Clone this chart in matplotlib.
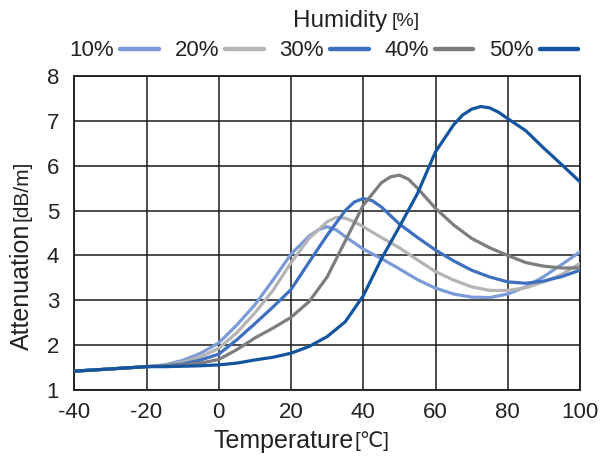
import matplotlib
matplotlib.use("Agg")
import matplotlib.pyplot as plt

plt.rcParams['font.family'] = ['Liberation Sans', 'DejaVu Sans']
plt.rcParams['axes.unicode_minus'] = False

t10 = [-40, -30, -20, -15, -10, -5, 0, 5, 10, 15, 20, 25, 27.5, 30, 32.5, 35, 40, 45,
       50, 55, 60, 65, 70, 75, 80, 85, 90, 95, 100]
h10 = [1.42, 1.47, 1.52, 1.56, 1.66, 1.82, 2.05, 2.45, 2.90, 3.45, 4.03, 4.43, 4.57,
       4.64, 4.57, 4.42, 4.14, 3.93, 3.70, 3.46, 3.27, 3.14, 3.07, 3.06, 3.14, 3.30,
       3.53, 3.80, 4.08]

t20 = [-40, -30, -20, -15, -10, -5, 0, 5, 10, 15, 20, 25, 30, 32.5, 35, 37.5, 40, 45,
       50, 55, 60, 65, 70, 75, 80, 85, 90, 95, 100]
h20 = [1.42, 1.47, 1.52, 1.55, 1.62, 1.74, 1.93, 2.28, 2.72, 3.22, 3.84, 4.38, 4.75,
       4.85, 4.83, 4.75, 4.64, 4.40, 4.17, 3.90, 3.64, 3.45, 3.30, 3.22, 3.22, 3.28,
       3.41, 3.58, 3.82]

t30 = [-40, -30, -20, -15, -10, -5, 0, 5, 10, 15, 20, 25, 30, 35, 37.5, 40, 42.5, 45,
       50, 55, 60, 65, 70, 75, 80, 85, 90, 95, 100]
h30 = [1.42, 1.47, 1.52, 1.54, 1.58, 1.67, 1.80, 2.12, 2.48, 2.85, 3.24, 3.85, 4.45,
       5.00, 5.19, 5.27, 5.22, 5.08, 4.70, 4.40, 4.12, 3.88, 3.67, 3.52, 3.41, 3.38,
       3.43, 3.53, 3.67]

t40 = [-40, -30, -20, -15, -10, -5, 0, 5, 10, 15, 20, 25, 30, 35, 40, 45, 47.5, 50,
       52.5, 55, 60, 65, 70, 75, 80, 85, 90, 95, 100]
h40 = [1.42, 1.47, 1.52, 1.54, 1.56, 1.60, 1.68, 1.90, 2.16, 2.38, 2.62, 2.97, 3.52,
       4.32, 5.12, 5.62, 5.75, 5.79, 5.70, 5.50, 5.05, 4.68, 4.38, 4.17, 4.00, 3.84,
       3.76, 3.72, 3.72]

t50 = [-40, -30, -20, -15, -10, -5, 0, 5, 10, 15, 20, 25, 30, 35, 40, 45, 50, 55, 60,
       65, 67.5, 70, 72.5, 75, 77.5, 80, 85, 90, 95, 100]
h50 = [1.42, 1.47, 1.52, 1.52, 1.53, 1.54, 1.56, 1.60, 1.67, 1.73, 1.82, 1.97, 2.19,
       2.52, 3.10, 3.92, 4.64, 5.38, 6.31, 6.91, 7.13, 7.26, 7.32, 7.29, 7.19, 7.05,
       6.78, 6.39, 6.02, 5.64]

temps = [t10, t20, t30, t40, t50]
series = [h10, h20, h30, h40, h50]
labels = ['10%', '20%', '30%', '40%', '50%']
colors = ['#7b9bd8', '#b4b4b4', '#3f6fbf', '#7d7d7d', '#1455a0']

xticks = [-40, -20, 0, 20, 40, 60, 80, 100]
yticks = [1, 2, 3, 4, 5, 6, 7, 8]

fig = plt.figure(figsize=(6.11, 4.57), dpi=100)
ax = fig.add_axes([74.3 / 611, 1 - 390 / 457, (580 - 74.3) / 611, (390 - 76) / 457])

handles = []
for xs, vals, lab, col in zip(temps, series, labels, colors):
    ln, = ax.plot(xs, vals, color=col, lw=2.3, label=lab,
                  solid_capstyle='round', solid_joinstyle='round', zorder=3)
    handles.append(ln)

ax.set_xlim(-40, 100)
ax.set_ylim(1, 8)
ax.set_xticks(xticks)
ax.set_yticks(yticks)
ax.grid(True, color='#1a1a1a', lw=1.1, zorder=1)
for s in ax.spines.values():
    s.set_color('#1a1a1a')
    s.set_linewidth(1.3)
ax.tick_params(length=0, labelsize=16, colors='#222222')
ax.tick_params(axis='x', pad=9)
ax.tick_params(axis='y', pad=11)

# axis labels
t = fig.text(213 / 611, 1 - 441 / 457, 'Temperature', fontsize=18, ha='left', va='center', color='#222222')
ax.annotate('[℃]', xy=(1, 0.5), xycoords=t, xytext=(1, 0), textcoords='offset points',
            ha='left', va='center', fontsize=15, color='#222222')

ty = fig.text(22 / 611, 1 - 350 / 457, 'Attenuation', fontsize=18, ha='center', va='bottom',
              rotation=90, color='#222222')
ax.annotate('[dB/m]', xy=(0.5, 1), xycoords=ty, xytext=(0, 2), textcoords='offset points',
            ha='center', va='bottom', rotation=90, fontsize=15, color='#222222')

# legend title
th = fig.text(293 / 611, 1 - 21 / 457, 'Humidity', fontsize=17.5, ha='left', va='center', color='#222222')
ax.annotate('[%]', xy=(1, 0.5), xycoords=th, xytext=(3, 0), textcoords='offset points',
            ha='left', va='center', fontsize=14, color='#222222')

leg = fig.legend(handles=handles, labels=labels, ncol=5, loc='center',
                 bbox_to_anchor=(324 / 611, 1 - 51 / 457), frameon=False,
                 markerfirst=False, fontsize=16, handlelength=1.75, handletextpad=0.25,
                 columnspacing=0.72, borderpad=0, borderaxespad=0)
for line in leg.get_lines():
    line.set_linewidth(3.2)
for txt in leg.get_texts():
    txt.set_color('#222222')

fig.savefig('out.png', dpi=100)
